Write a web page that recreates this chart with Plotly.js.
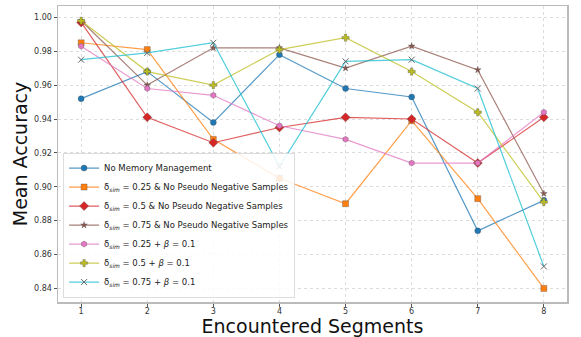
<!DOCTYPE html>
<html>
<head>
<meta charset="utf-8">
<script src="https://cdn.plot.ly/plotly-3.0.1.min.js"></script>
<style>html,body{margin:0;padding:0;background:#fff;}#chart{width:581px;height:337px;}</style>
</head>
<body>
<div id="chart"></div>
<script>
const segments = [1, 2, 3, 4, 5, 6, 7, 8];
const noMemory        = [0.952, 0.968, 0.938, 0.978, 0.958, 0.953, 0.874, 0.892];
const sim025NoPseudo  = [0.985, 0.981, 0.928, 0.905, 0.890, 0.939, 0.893, 0.840];
const sim05NoPseudo   = [0.997, 0.941, 0.926, 0.935, 0.941, 0.940, 0.914, 0.941];
const sim075NoPseudo  = [0.998, 0.960, 0.982, 0.982, 0.970, 0.983, 0.969, 0.896];
const sim025Beta      = [0.983, 0.958, 0.954, 0.936, 0.928, 0.914, 0.914, 0.944];
const sim05Beta       = [0.998, 0.968, 0.960, 0.981, 0.988, 0.968, 0.944, 0.891];
const sim075Beta      = [0.975, 0.979, 0.985, 0.912, 0.974, 0.975, 0.958, 0.853];
const seriesNames = [
  "No Memory Management",
  "δ<sub><i>sim</i></sub> = 0.25 & No Pseudo Negative Samples",
  "δ<sub><i>sim</i></sub> = 0.5 & No Pseudo Negative Samples",
  "δ<sub><i>sim</i></sub> = 0.75 & No Pseudo Negative Samples",
  "δ<sub><i>sim</i></sub> = 0.25 + <i>β</i> = 0.1",
  "δ<sub><i>sim</i></sub> = 0.5 + <i>β</i> = 0.1",
  "δ<sub><i>sim</i></sub> = 0.75 + <i>β</i> = 0.1"
];
const yTicks = [0.84, 0.86, 0.88, 0.90, 0.92, 0.94, 0.96, 0.98, 1.00];

const allSeries = [noMemory, sim025NoPseudo, sim05NoPseudo, sim075NoPseudo, sim025Beta, sim05Beta, sim075Beta];
const colors = ["#1f77b4", "#ff7f0e", "#d62728", "#8c564b", "#e377c2", "#bcbd22", "#17becf"];
const lineColors = ["rgba(31,119,180,0.75)", "rgba(255,127,14,0.75)", "rgba(214,39,40,0.75)", "rgba(140,86,75,0.75)", "rgba(227,119,194,0.75)", "rgba(188,189,34,0.75)", "rgba(23,190,207,0.75)"];
const symbols = ["circle", "square", "diamond", "star", "hexagon", "cross", "x-thin"];
const sizes = [6, 6, 7, 5, 6, 6, 6];

const traces = allSeries.map((ys, i) => ({
  x: segments, y: ys, type: "scatter", mode: "lines+markers",
  name: seriesNames[i],
  line: {color: lineColors[i], width: 1.2},
  marker: {symbol: symbols[i], size: sizes[i], color: colors[i],
           line: {color: i === 6 ? "#666" : "rgba(80,80,80,0.6)", width: i === 6 ? 1 : 0.6}}
}));

const layout = {
  width: 581, height: 337,
  margin: {l: 58, r: 14, t: 6, b: 35},
  paper_bgcolor: "#fff", plot_bgcolor: "#fff",
  font: {family: "DejaVu Sans", color: "#222"},
  showlegend: true,
  legend: {x: 0.01, y: 0.015, xanchor: "left", yanchor: "bottom",
           bgcolor: "rgba(255,255,255,0.85)", bordercolor: "#ddd", borderwidth: 1,
           font: {size: 8.5, color: "#222", family: "DejaVu Sans"}, tracegroupgap: 0},
  xaxis: {
    range: [0.65, 8.35], tickvals: segments, ticktext: segments.map(String),
    showgrid: true, gridcolor: "#ddd", griddash: "dot", gridwidth: 1,
    zeroline: false, ticks: "outside", ticklen: 3, tickcolor: "#555",
    tickfont: {size: 8, color: "#333"}, ticklabelstandoff: -2,
    showline: true, linecolor: "#bbb", linewidth: 1.5, mirror: true,
    title: {text: "Encountered Segments", font: {size: 19, color: "#111"}, standoff: 1}
  },
  yaxis: {
    range: [0.832, 1.0067], tickvals: yTicks, ticktext: yTicks.map(v => v.toFixed(2)),
    showgrid: true, gridcolor: "#ddd", griddash: "dot", gridwidth: 1,
    zeroline: false, ticks: "outside", ticklen: 3, tickcolor: "#555",
    tickfont: {size: 8, color: "#333"},
    showline: true, linecolor: "#bbb", linewidth: 1.5, mirror: true,
    title: {text: "Mean Accuracy", font: {size: 19, color: "#111"}, standoff: 1}
  }
};

Plotly.newPlot("chart", traces, layout, {displayModeBar: false, staticPlot: true});
</script>
</body>
</html>
